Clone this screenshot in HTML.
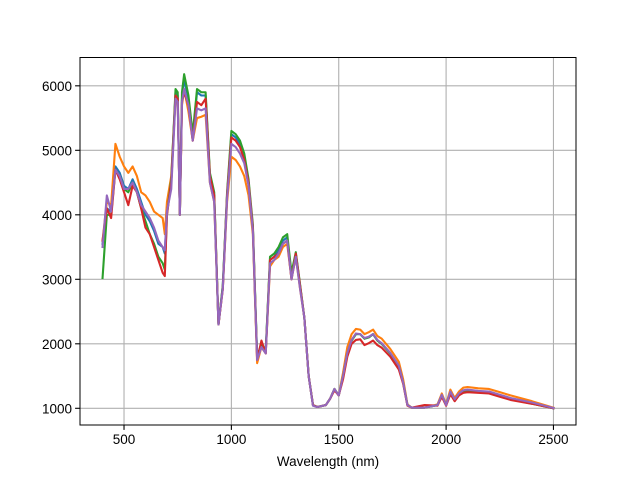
<!DOCTYPE html>
<html><head><meta charset="utf-8"><style>
html,body{margin:0;padding:0;background:#fff;}
svg{display:block;font-family:"Liberation Sans","DejaVu Sans",sans-serif;}
</style></head><body>
<svg id="chart" width="640" height="478" viewBox="0 0 640 478" xmlns="http://www.w3.org/2000/svg">
<rect x="0" y="0" width="640" height="478" fill="#fff"/>
<g id="grid"></g>
<g id="series"></g>
<rect x="80" y="57.5" width="496" height="367.5" fill="none" stroke="#000" stroke-width="1"/>
<g id="xticks"></g>
<g id="yticks"></g>
<text x="328" y="466" font-size="13.5" text-anchor="middle">Wavelength (nm)</text>
</svg>
<script>
const wavelengths=[400,420,440,460,480,500,520,540,560,580,600,620,640,660,680,690,700,720,740,750,760,770,780,800,820,840,860,880,900,920,940,960,980,1000,1020,1040,1060,1080,1100,1120,1140,1160,1180,1200,1220,1240,1260,1280,1300,1320,1340,1360,1380,1400,1440,1460,1480,1500,1520,1540,1560,1580,1600,1620,1640,1660,1680,1700,1740,1780,1800,1820,1840,1900,1960,1980,2000,2020,2040,2060,2080,2100,2150,2200,2250,2300,2400,2500];
const seriesBlue=[3550,4100,4050,4750,4650,4450,4400,4550,4400,4200,4000,3900,3750,3550,3500,3400,4100,4500,5900,5850,4000,5800,6100,5800,5200,5900,5850,5850,4600,4300,2300,2900,4300,5250,5200,5100,4900,4500,3800,1800,2000,1900,3300,3350,3450,3600,3650,3050,3400,2900,2400,1500,1050,1020,1050,1150,1300,1200,1500,1850,2050,2150,2150,2080,2100,2150,2050,2000,1850,1650,1400,1050,1010,1010,1050,1200,1050,1250,1130,1220,1270,1280,1260,1250,1200,1150,1080,1000];
const seriesOrange=[3600,4200,4150,5100,4900,4750,4650,4750,4600,4350,4300,4200,4050,4000,3950,3700,4200,4600,5850,5800,4000,5700,5950,5600,5150,5500,5520,5550,4500,4200,2300,2850,4200,4900,4850,4750,4600,4300,3700,1700,1950,1850,3200,3300,3350,3500,3550,3000,3350,2850,2400,1500,1050,1020,1050,1150,1300,1200,1550,1950,2150,2230,2220,2150,2180,2220,2120,2080,1920,1720,1450,1060,1010,1010,1060,1230,1060,1290,1160,1260,1320,1330,1310,1300,1250,1200,1110,1010];
const seriesGreen=[3020,4000,4000,4700,4600,4400,4350,4500,4350,4100,3900,3700,3550,3350,3250,3150,4000,4550,5950,5900,4000,5900,6180,5850,5250,5950,5900,5900,4650,4350,2300,2900,4350,5300,5250,5150,4950,4550,3850,1800,2000,1900,3350,3400,3500,3650,3700,3100,3420,2920,2400,1500,1050,1020,1050,1150,1300,1200,1500,1850,2050,2150,2150,2080,2100,2150,2050,2000,1850,1650,1400,1050,1010,1010,1050,1200,1050,1250,1130,1220,1260,1270,1250,1240,1190,1140,1070,1000];
const seriesRed=[3600,4100,3950,4700,4550,4350,4150,4450,4350,4100,3800,3700,3500,3300,3100,3050,4000,4500,5850,5800,4000,5750,5900,5700,5150,5750,5700,5800,4600,4300,2300,2850,4300,5200,5150,5050,4850,4500,3800,1750,2050,1850,3300,3350,3400,3550,3600,3000,3400,2900,2400,1500,1050,1020,1050,1150,1280,1200,1450,1800,2000,2060,2070,1980,2010,2050,1980,1940,1800,1600,1380,1040,1010,1050,1040,1180,1040,1220,1110,1200,1240,1250,1240,1230,1180,1130,1070,1000];
const seriesPurple=[3500,4300,4050,4700,4600,4400,4400,4500,4350,4150,4050,3950,3800,3600,3500,3450,4050,4400,5800,5750,4000,5750,5950,5700,5150,5650,5620,5650,4500,4200,2300,2850,4250,5100,5050,4950,4800,4450,3750,1750,1950,1850,3250,3300,3400,3550,3600,3000,3350,2850,2400,1500,1040,1020,1050,1150,1300,1200,1500,1860,2060,2160,2150,2090,2110,2150,2060,2010,1860,1660,1400,1050,1010,1010,1050,1210,1050,1260,1140,1230,1280,1290,1270,1260,1210,1160,1090,1005];
const xTicks=[500,1000,1500,2000,2500];
const yTicks=[1000,2000,3000,4000,5000,6000];

const NS="http://www.w3.org/2000/svg";
const L=80,R=576,T=57.5,B=425;
const x0=295,x1=2605,y0=741,y1=6439;
function sx(v){return L+(v-x0)/(x1-x0)*(R-L);}
function sy(v){return B-(v-y0)/(y1-y0)*(B-T);}
function mk(tag,attrs,parent){const e=document.createElementNS(NS,tag);for(const k in attrs)e.setAttribute(k,attrs[k]);parent.appendChild(e);return e;}

const grid=document.getElementById('grid');
const xg=document.getElementById('xticks');
const yg=document.getElementById('yticks');
xTicks.forEach(t=>{
  const x=sx(t);
  const gl=mk('line',{x1:x,x2:x,y1:T,y2:B,stroke:'#b0b0b0','stroke-width':1.1},grid);
  
  
  const tk=mk('line',{x1:x,x2:x,y1:B,y2:B+4.9,stroke:'#000','stroke-width':1.1},xg);
  
  
  const tx=mk('text',{x:x,y:B+19,'font-size':13.5,'text-anchor':'middle'},xg);
  tx.textContent=t;
  
  
});
yTicks.forEach(t=>{
  const y=sy(t);
  const gl=mk('line',{x1:L,x2:R,y1:y,y2:y,stroke:'#b0b0b0','stroke-width':1.1},grid);
  
  
  const tk=mk('line',{x1:L-4.9,x2:L,y1:y,y2:y,stroke:'#000','stroke-width':1.1},yg);
  
  
  const tx=mk('text',{x:L-8,y:y+5,'font-size':13.5,'text-anchor':'end'},yg);
  tx.textContent=t;
  
  
});
const sg=document.getElementById('series');
const all=[[seriesBlue,'#1f77b4','series-1'],[seriesOrange,'#ff7f0e','series-2'],[seriesGreen,'#2ca02c','series-3'],[seriesRed,'#d62728','series-4'],[seriesPurple,'#9467bd','series-5']];
all.forEach(([vals,col,name])=>{
  const d=vals.map((v,i)=>(i?'L':'M')+sx(wavelengths[i]).toFixed(2)+','+sy(v).toFixed(2)).join('');
  const p=mk('path',{d:d,fill:'none',stroke:col,'stroke-width':2.1,'stroke-linejoin':'round','stroke-linecap':'square'},sg);
  
  
});
</script>
</body></html>
